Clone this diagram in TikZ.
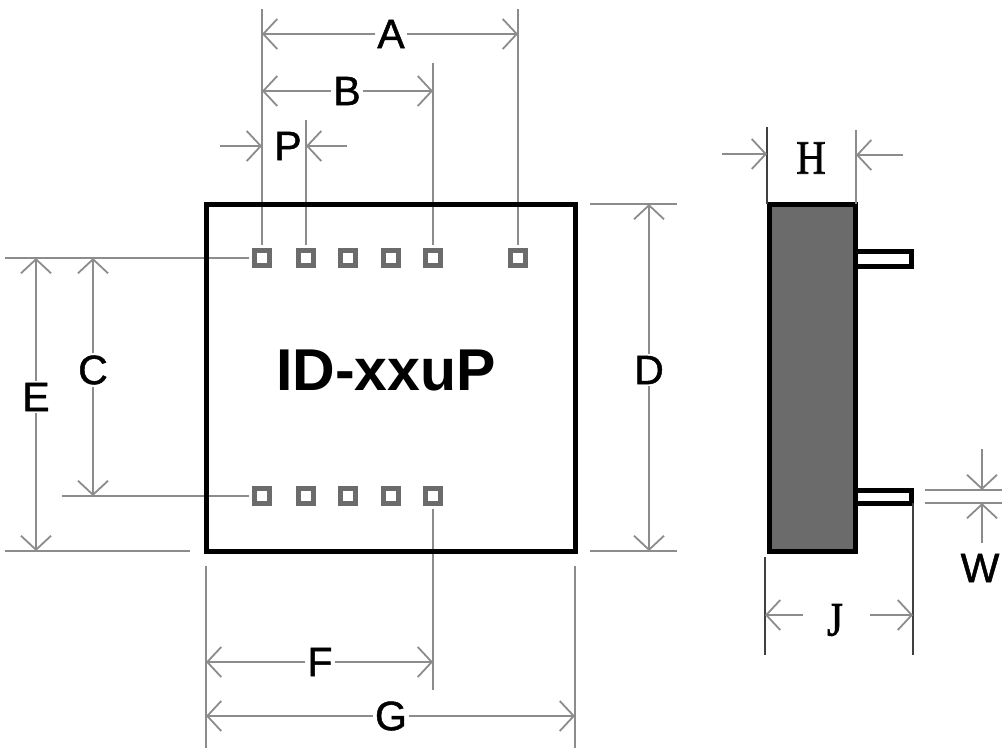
\documentclass[tikz,border=0pt]{standalone}
\usepackage{fontspec}
\setmainfont{Liberation Sans}
\newfontfamily\labelface[FakeBold=1.2]{Liberation Sans}
\newfontfamily\serifface[FakeBold=1.5]{Liberation Serif}
\usepackage{xcolor}
\usetikzlibrary{arrows.meta}
\definecolor{extgray}{gray}{0.55}
\definecolor{pingray}{gray}{0.42}
\definecolor{darkline}{gray}{0.25}
\tikzset{
	pinbox/.style={draw=pingray, line width=5pt, minimum size=15.5pt, inner sep=0pt, outer sep=5pt},
	outline/.style={draw=black, line width=5pt, inner sep=0pt, outer sep=0pt},
	extline/.style={draw=extgray, line width=1.8pt},
	thinext/.style={draw=darkline, line width=1.6pt},
	dimarrow/.style={draw=extgray, line width=1.8pt, -{Straight Barb[length=14pt,width=30pt,line width=1.8pt]}},
	dimlabel/.style={font=\fontsize{41}{41}\labelface, text=black, inner sep=2pt, outer sep=0pt},
	seriflabel/.style={font=\fontsize{48}{48}\serifface, text=black, inner sep=0pt, xscale=0.85}
}
\begin{document}
\begin{tikzpicture}[x=1pt, y=-1pt]
	\useasboundingbox (0,0) rectangle (1002,748);
	\foreach \name/\px in {1/262,2/306,3/348,4/391,5/433,6/518}
		\node[pinbox] (pinT\name) at (\px,258) {};
	\foreach \name/\px in {1/262,2/306,3/348,4/391,5/433}
		\node[pinbox] (pinB\name) at (\px,496) {};
	\coordinate (topA1) at (262,9);
	\coordinate (topA2) at (518,9);
	\coordinate (topB) at (433,63);
	\coordinate (topP) at (306,120);
	\coordinate (leftE) at (5,258);
	\coordinate (leftC) at (62,496);
	\coordinate (leftBase) at (5,551);
	\coordinate (endBase) at (190,551);
	\coordinate (startD1) at (590,204);
	\coordinate (endD1) at (677,204);
	\coordinate (startD2) at (590,551);
	\coordinate (endD2) at (677,551);
	\coordinate (startG1) at (206,566);
	\coordinate (endG1) at (206,748);
	\coordinate (startG2) at (575,566);
	\coordinate (endG2) at (575,748);
	\coordinate (endF) at (433,690);
	\draw[extline] (pinT1.north) -- (topA1);
	\draw[extline] (pinT6.north) -- (topA2);
	\draw[extline] (pinT5.north) -- (topB);
	\draw[extline] (pinT2.north) -- (topP);
	\draw[extline] (pinT1.west) -- (leftE);
	\draw[extline] (pinB1.west) -- (leftC);
	\draw[extline] (leftBase) -- (endBase);
	\draw[extline] (startD1) -- (endD1);
	\draw[extline] (startD2) -- (endD2);
	\draw[extline] (startG1) -- (endG1);
	\draw[extline] (startG2) -- (endG2);
	\draw[extline] (pinB5.south) -- (endF);
	\node[outline, minimum width=369pt, minimum height=347pt] (body) at (390.5,377.5) {};
	\node[font=\fontsize{59}{59}\selectfont\bfseries, inner sep=0pt] (partname) at (386,370) {ID-xxuP};
	\node[dimlabel] (labA) at (391,34) {A};
	\node[dimlabel] (labB) at (347,91) {B};
	\node[dimlabel, inner sep=0pt] (labP) at (288,146) {P};
	\node[dimlabel] (labC) at (93,370) {C};
	\node[dimlabel] (labE) at (36,397) {E};
	\node[dimlabel] (labD) at (649,370) {D};
	\node[dimlabel] (labF) at (320,662) {F};
	\node[dimlabel] (labG) at (391,716) {G};
	\draw[dimarrow] (labA) -- (pinT1 |- labA);
	\draw[dimarrow] (labA) -- (pinT6 |- labA);
	\draw[dimarrow] (labB) -- (pinT1 |- labB);
	\draw[dimarrow] (labB) -- (pinT5 |- labB);
	\coordinate (startP1) at (220,146);
	\coordinate (startP2) at (347,146);
	\draw[dimarrow] (startP1) -- (pinT1 |- startP1);
	\draw[dimarrow] (startP2) -- (pinT2 |- startP2);
	\draw[dimarrow] (labC) -- (labC |- pinT1);
	\draw[dimarrow] (labC) -- (labC |- pinB1);
	\draw[dimarrow] (labE) -- (labE |- pinT1);
	\draw[dimarrow] (labE) -- (labE |- leftBase);
	\draw[dimarrow] (labD) -- (labD |- startD1);
	\draw[dimarrow] (labD) -- (labD |- startD2);
	\draw[dimarrow] (labF) -- (startG1 |- labF);
	\draw[dimarrow] (labF) -- (pinB5 |- labF);
	\draw[dimarrow] (labG) -- (startG1 |- labG);
	\draw[dimarrow] (labG) -- (startG2 |- labG);
	\node[outline, fill=white, minimum width=56pt, minimum height=15pt] (leadT) at (883,258.5) {};
	\node[outline, fill=white, minimum width=56pt, minimum height=13pt] (leadB) at (883,496.5) {};
	\node[outline, fill=pingray, minimum width=86pt, minimum height=347pt] (side) at (812,377.5) {};
	\coordinate (topH1) at (767,127);
	\coordinate (topH2) at (856,130);
	\coordinate (startH1) at (722,154);
	\coordinate (startH2) at (903,155);
	\draw[thinext] (topH1 |- side.north) -- (topH1);
	\draw[extline] (topH2 |- side.north) -- (topH2);
	\draw[dimarrow] (startH1) -- (topH1 |- startH1);
	\draw[dimarrow] (startH2) -- (topH2 |- startH2);
	\node[seriflabel] (labH) at (811,158) {H};
	\coordinate (topJ1) at (765,557);
	\coordinate (endJ1) at (765,655);
	\coordinate (endJ2) at (913,655);
	\coordinate (startJ1) at (803,615);
	\coordinate (startJ2) at (870,615);
	\draw[thinext] (topJ1) -- (endJ1);
	\draw[thinext] (endJ2 |- leadB.south) -- (endJ2);
	\draw[dimarrow] (startJ1) -- (topJ1 |- startJ1);
	\draw[dimarrow] (startJ2) -- (endJ2 |- startJ2);
	\node[seriflabel] (labJ) at (835,620) {J};
	\coordinate (startW1) at (925,490);
	\coordinate (endW1) at (1002,490);
	\coordinate (startW2) at (925,503);
	\coordinate (endW2) at (1002,503);
	\coordinate (topW) at (982,449);
	\coordinate (lowW) at (982,543);
	\draw[extline] (startW1) -- (endW1);
	\draw[extline] (startW2) -- (endW2);
	\draw[dimarrow] (topW) -- (topW |- startW1);
	\draw[dimarrow] (lowW) -- (lowW |- startW2);
	\node[dimlabel, inner sep=0pt] (labW) at (980,568) {W};
\end{tikzpicture}
\end{document}
